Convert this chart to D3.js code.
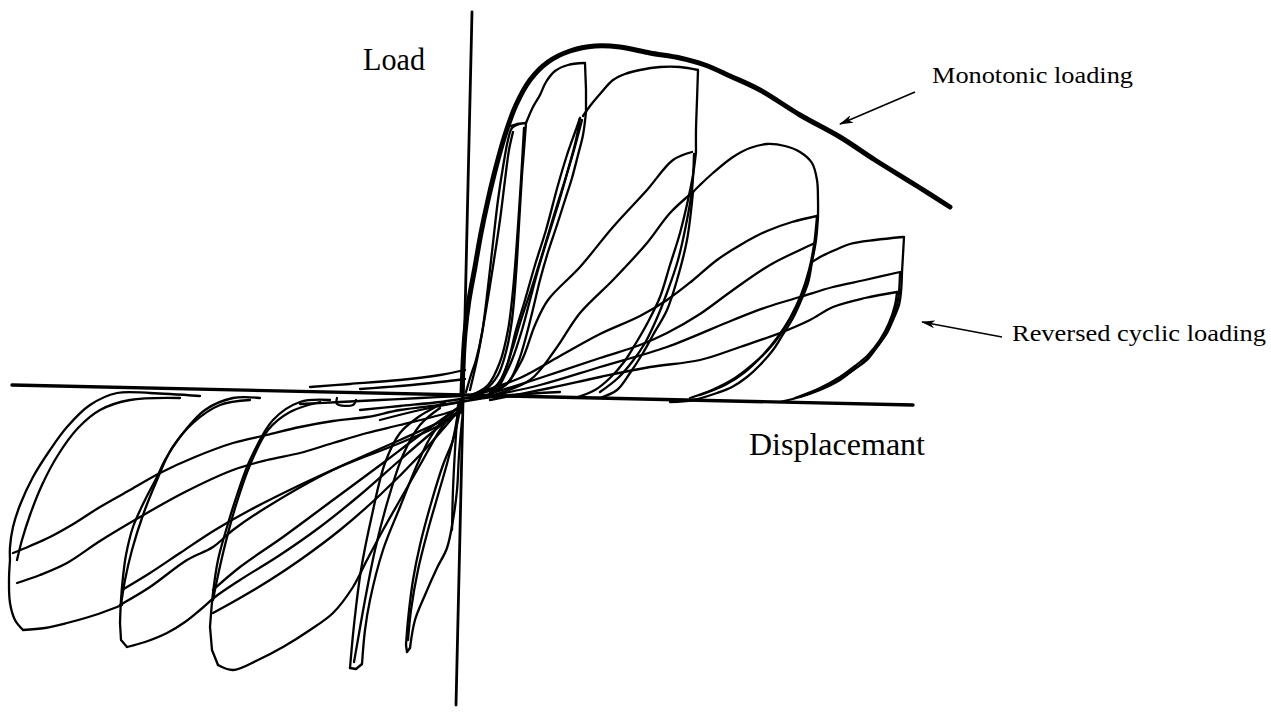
<!DOCTYPE html>
<html>
<head>
<meta charset="utf-8">
<script src="https://cdn.jsdelivr.net/npm/d3@7"></script>
<style>
  html, body { margin: 0; padding: 0; background: #fff; }
  svg { display: block; }
  .lbl { font-family: "Liberation Serif", "Times New Roman", serif; fill: #000; }
</style>
</head>
<body>
<svg id="chart" width="1271" height="721"></svg>
<script>
// Displacement in mm, load in kN. Each curve is a list of [displacement, load].

// Axis lines (slightly skewed as on the original plot)
const axisDisp = [[-90, 2], [90.2, -2]];
const axisLoad = [[2, 76.6], [-1.2, -62]];

// Monotonic loading envelope
const monotonic = [[0,0],[0.2,6],[0.6,12.4],[1.4,19],[2.6,25.6],[3.8,32.4],[5.2,39],[6.8,45.6],[8.6,52],[10.8,58],[13.6,63],[17.2,66.6],[21.6,68.8],[26.6,69.8],[31.6,69.6],[37.6,68.4],[43.6,67.4],[48.6,66],[53.6,63.8],[59.6,61],[67.6,56],[75.6,51.6],[82.6,47],[91,41.8],[97.6,37.6]];

// Reversed cyclic loading, positive half-cycles
const posA = [
  [[9.2,53.6],[11,54.2],[12.8,54.4]],
  [[12.8,54.4],[12.4,49],[12,44],[11.4,34],[10.8,24],[10,15],[8.8,8.6],[7.2,4],[4.6,1],[1.6,-0.2]],
  [[0.8,0.6],[1.8,4],[2.8,7],[4,12.4],[5.2,21.6],[6.2,30.4],[7.2,39],[8.2,45.6],[9.2,51],[10,53.4],[11.6,54.2]],
  [[12.4,53.4],[11.8,43],[11,31],[10.2,21],[9.2,13],[7.6,6.6],[5.2,2],[2,0]],
  [[1.6,1],[3.2,8],[4.8,17],[6.4,27],[7.6,35],[8.6,43],[9.4,49],[10.2,52.6]]
];
const posB = [
  [[12.8,54.4],[14.2,57.6],[15.6,60],[16.8,62.6],[18.6,64.8],[21.2,66],[24.4,66.4]],
  [[24.6,66.4],[24.8,61],[24.8,56.6]],
  [[24.8,56.6],[24.2,52],[23.2,48],[22,43.4],[20.6,39],[19,34],[17.2,28.6],[15.6,23],[14.4,18],[13,12.4],[11.4,7],[9.2,2.4],[5.6,0.2]],
  [[3.6,0.2],[7,2],[9,6],[10.8,13],[12.6,19],[14.6,26],[16.8,33],[19.2,42],[21,48],[22.4,52],[23.6,55.4]],
  [[23.6,55.4],[22.8,51],[21.2,45],[19.2,38],[17,31],[15.2,25],[13.6,19],[12,13],[10,7],[7.6,2]],
  [[5.6,0.4],[8,3.4],[10,9],[11.8,15],[13.8,21],[16,28],[18.4,36],[20.6,43],[22.4,49],[24,55]]
];
const posC = [
  [[24.2,55.8],[25.6,57.8],[27.6,60.2],[30.2,63],[32.6,64.2],[35.6,65],[39.6,65.6],[43.6,65.6],[47.2,65]],
  [[47.2,65],[47,59],[46.8,53],[46.8,48.6]],
  [[46.8,48.6],[46.2,44],[45.2,39],[43.6,32.4],[41.6,26],[39.6,19.6],[37.2,14.6],[34.8,10.4],[32.4,6.6],[29.6,3.4],[26.6,1],[22.6,-0.6]],
  [[3.2,0.4],[8.6,2],[12,7],[14.6,14],[17.2,19],[23.6,25.6],[30.2,33.6],[37,41],[42.2,47],[46,48.6]],
  [[46.4,48.2],[46,41],[44.8,34],[43.2,27],[41.2,21],[39,15.4],[36.6,10.4],[34,6.6],[31.2,3.4],[27.6,0.6]],
  [[5.6,-0.2],[13.6,3],[18.6,9],[23.6,16.4],[30.2,23],[37,30.4],[41.6,36.4],[46.2,40.6]],
  [[46.2,40.6],[45,31],[43,23],[41,17],[38.2,12],[36.2,8.4],[33.6,4.4],[31,1],[27.6,-0.6]]
];
const posD = [
  [[46.2,40.6],[47.6,42],[50.2,44.4],[54.2,47.6],[57.6,49.4],[61,50.2],[64.6,49.8],[67.6,48.6],[70,46.4],[71,43],[71.2,39],[71.2,35.6]],
  [[71.2,35.6],[70.8,31],[70,26.6],[69.2,22.4],[67.6,18.4],[66.2,15.4],[64,11.8],[62.2,9],[59.6,6],[57,3.6],[54,1.6],[51,0.4],[46.2,-1],[41.6,-1.4]],
  [[1.6,0],[11.6,3.4],[19.6,7.8],[27.6,12.2],[35.6,15.8],[41,19],[46,22.8],[51,27],[56,30.2],[61,32.8],[66,34.6],[71,35.8]],
  [[71,35.8],[70.4,30],[69.4,25],[67.8,20],[65.6,15.4],[63,11.4],[60,7.8],[56.6,4.6],[52.6,2],[47.6,0]],
  [[3.6,-0.4],[15.6,3.4],[27.6,7.4],[35.6,10],[41,12.4],[47.6,16.2],[54.2,21],[61.6,26],[67.6,29],[70.6,30.4]],
  [[70.6,30.4],[69.8,26],[68.6,21.6],[66.6,17],[64,12.6],[61.2,9],[58,6],[54.6,3.4],[50,1],[45.6,-0.6]]
];
const posE = [
  [[70,26.6],[72,27.8],[74.6,29],[77.6,30.2],[82.6,31],[88.2,31.6]],
  [[88.4,31.6],[88.2,28],[88,24.6]],
  [[88,24.6],[87.8,20.6],[87.4,18],[86.2,15],[85,12.4],[83,9.6],[81,7],[78.2,5],[75.6,3],[71.6,1],[67.6,-0.4],[63.6,-1.4]],
  [[3.6,-0.6],[15.6,2],[27.6,5.6],[41,9.6],[54.2,15],[61,17.6],[67.6,19.6],[74.2,21.6],[80.6,23],[87.6,24.6]],
  [[87.6,24.4],[87.2,19],[86,15],[84.4,11.6],[82.2,8.6],[79.6,6],[76.6,3.8],[72.6,1.6],[67.6,-0.4]],
  [[5.6,-1],[17.6,1.4],[27.6,3.6],[37.6,5.6],[47.6,7],[55.6,9.6],[63.6,12.4],[69.6,15],[74.2,17.6],[80.6,19.4],[87,20.6]],
  [[87,20.6],[86.6,18],[85.4,14.4],[83.6,11],[81.2,8],[78.6,5.8],[75.6,3.6],[71.6,1.4],[66.6,-0.6]]
];

// Reversed cyclic loading, negative half-cycles
const negA = [
  [[0,-0.6],[-0.8,-5],[-1.8,-9],[-3.8,-14],[-6,-21],[-8.4,-30],[-9.8,-37],[-10.8,-45],[-11.2,-50]],
  [[-11.2,-50],[-11,-51.4],[-10.4,-50.6]],
  [[-10.4,-50.6],[-9.4,-45],[-7.4,-40],[-5,-34.6],[-3,-30.6],[-1.8,-25],[-1,-19],[-0.6,-12],[0,-5]],
  [[-0.4,-1],[-1.4,-7],[-2.8,-13],[-4.8,-20],[-6.8,-27],[-8.8,-35],[-10.2,-43],[-10.8,-49]],
  [[-0.8,-2],[-1.4,-11],[-1.8,-19],[-2,-27]]
];
const negB = [
  [[-3.4,-1.4],[-6.4,-3],[-9,-4.6],[-12.4,-7.6],[-15.4,-13.6],[-18,-24],[-20.2,-35],[-21.6,-46],[-22.4,-54.6]],
  [[-22.4,-54.6],[-21.2,-54.8],[-20,-53.8]],
  [[-20,-53.8],[-19.4,-47],[-18.4,-41],[-15.8,-31],[-12.4,-22.4],[-9,-14],[-6.4,-8.6],[-3.4,-4.6],[0,-2]],
  [[-4.4,-2.6],[-8.4,-6],[-11.8,-12],[-14.8,-21],[-17.4,-31],[-19.4,-41],[-21,-50],[-21.6,-53.4]]
];
const negC = [
  [[-26.4,-1],[-32.4,-1.4],[-37.8,-5],[-42.4,-13],[-45,-20],[-47,-26.4],[-48.8,-33],[-49.8,-39.6],[-50.4,-46.4]],
  [[-50.4,-46.4],[-50,-51],[-48.8,-54]],
  [[-48.8,-54],[-45.8,-55],[-40.8,-53],[-35.8,-50.4],[-30.4,-47],[-25.8,-43.6],[-21.8,-38.4],[-19,-33],[-15.8,-27],[-12.4,-21],[-8.4,-14],[-4.4,-7],[-1.4,-3]],
  [[-28.4,-1.4],[-34.4,-3.4],[-38.8,-7],[-42.4,-14],[-45.2,-22],[-47.4,-30],[-49,-37],[-49.8,-41]],
  [[-49.8,-39],[-44.4,-34.4],[-35.8,-28.4],[-25.8,-21],[-15.8,-13.6],[-8.4,-8],[-1.4,-3]],
  [[-49.8,-43.6],[-44.4,-40.6],[-38.4,-37],[-32.4,-33],[-24.4,-27],[-16.4,-20],[-8.4,-12],[-1.4,-4]]
];
const negD = [
  [[-40.4,-0.6],[-45.8,-0.6],[-51.4,-3],[-56.4,-8.4],[-59.4,-13],[-61,-16.4],[-63.4,-21],[-65.8,-26.4],[-67.2,-32],[-67.8,-36.4],[-68.2,-41],[-68.4,-45.6]],
  [[-68.4,-45.6],[-68.2,-49],[-67,-50.4]],
  [[-67,-50.4],[-63.4,-49.4],[-59,-47.6],[-55.4,-45.4],[-52.4,-43],[-49.4,-40.4],[-44.4,-37],[-36.4,-32],[-28.4,-26.4],[-20.4,-20],[-12.4,-13],[-5.4,-7],[-0.4,-3]],
  [[-42.4,-1],[-48.4,-2],[-53.8,-5.6],[-58,-10.6],[-61,-17],[-63.8,-24],[-66,-31],[-67.4,-37],[-68.2,-42]],
  [[-68.4,-42],[-62.4,-38.4],[-55,-33],[-49.8,-30.4],[-45.8,-27],[-39,-22.4],[-25.8,-15],[-12.4,-9.6],[-4.4,-6],[0,-3]],
  [[-68,-39],[-62.4,-35.6],[-56.4,-31.6],[-49.4,-27],[-42.4,-23],[-32.4,-18],[-22.4,-13.4],[-12.4,-9],[-4.4,-5.4],[0,-3.4]]
];
const negE = [
  [[-52.4,-0.2],[-62.4,0.4],[-69,0.4],[-74.4,-2],[-79,-6.4],[-82.4,-11],[-85.8,-16.4],[-88.4,-22],[-89.8,-26.4],[-90.4,-30.4],[-90.4,-33]],
  [[-90.4,-33],[-90.6,-37],[-90.4,-41.6],[-89.4,-45],[-87.8,-47]],
  [[-87.8,-47],[-83.4,-46.6],[-79,-45.6],[-73.4,-44],[-69,-42.4],[-68,-42]],
  [[-89.8,-31.6],[-86.4,-30.2],[-82.4,-28.4],[-77.4,-25.6],[-72.4,-22.4],[-66.4,-19],[-60.4,-15.6],[-53.4,-12.4],[-45.8,-9.6],[-39,-8],[-32.4,-6.4],[-25.8,-5.2],[-19,-4.4],[-12.4,-3],[-4.4,-2],[0,-1.4]],
  [[-89,-37.6],[-84.4,-36],[-79,-33.6],[-72.4,-29.2],[-64.4,-24.4],[-55.4,-19.4],[-45.8,-15],[-39,-13],[-32.4,-11.6],[-25.8,-9.6],[-19,-7.6],[-12.4,-6],[-4.4,-4],[0,-2.6]],
  [[-56.4,-0.6],[-66.4,-1],[-72.4,-3],[-76.8,-6.6],[-80.8,-12],[-84,-18],[-86.4,-24],[-88,-29],[-89,-33]]
];

// Short segments crossing the origin region (pinched part of the cycles)
const nearOrigin = [
  [[-32.4,-1.8],[-24.4,-1.4],[-16.4,-1],[-8.4,-0.6],[0,-0.2]],
  [[-25,-0.6],[-25,-1.8],[-21.8,-2],[-21.2,-1]],
  [[-20.4,-3],[-12.4,-2.2],[-4.4,-1.4],[1.6,-0.6],[11.6,-0.2]],
  [[-16.4,-5],[-8.4,-3],[-0.4,-1.4],[7.6,-0.2],[19.6,0.6]],
  [[-30.4,1.6],[-22.4,2.2],[-12.4,3],[-4.4,4],[0.6,5]],
  [[-20.4,1.2],[-12.4,1.8],[-4.4,2.6],[0.6,3.2]]
];

// Annotations
const labels = [
  { text: "Load", at: [-19.8, 65], size: 31, width: 62 },
  { text: "Displacemant", at: [57.4, -12], size: 31, width: 176 },
  { text: "Monotonic loading", at: [94, 62.4], size: 24, width: 201 },
  { text: "Reversed cyclic loading", at: [110, 10.8], size: 24, width: 254 }
];
const arrows = [
  [[90.6, 60.6], [75.6, 54.2]],
  [[108, 11.6], [92, 14.6]]
];

const svg = d3.select("#chart");
const x = d3.scaleLinear().domain([-90, 100]).range([12, 962]);
const y = d3.scaleLinear().domain([-62, 78]).range([705, 5]);

const smooth = d3.line().x(d => x(d[0])).y(d => y(d[1])).curve(d3.curveCatmullRom.alpha(0.5));
const straight = d3.line().x(d => x(d[0])).y(d => y(d[1]));

svg.append("defs").append("marker")
  .attr("id", "head")
  .attr("viewBox", "0 0 14 8")
  .attr("refX", 13).attr("refY", 4)
  .attr("markerWidth", 14).attr("markerHeight", 8)
  .attr("markerUnits", "userSpaceOnUse")
  .attr("orient", "auto")
  .append("path").attr("d", "M0,0 L14,4 L0,8 L4,4 Z").attr("fill", "#000");

// axes
svg.append("path").attr("d", straight(axisDisp))
  .attr("stroke", "#000").attr("stroke-width", 3.4).attr("fill", "none").attr("stroke-linecap", "round");
svg.append("path").attr("d", straight(axisLoad))
  .attr("stroke", "#000").attr("stroke-width", 2.8).attr("fill", "none").attr("stroke-linecap", "round");

// cyclic curves
const cyclic = [].concat(posA, posB, posC, posD, posE, negA, negB, negC, negD, negE, nearOrigin);
svg.append("g")
  .selectAll("path")
  .data(cyclic)
  .join("path")
  .attr("d", d => d.length <= 3 ? straight(d) : smooth(d))
  .attr("fill", "none")
  .attr("stroke", "#000")
  .attr("stroke-width", 2.3)
  .attr("stroke-linejoin", "round")
  .attr("stroke-linecap", "round");

// monotonic envelope
svg.append("path").attr("d", smooth(monotonic))
  .attr("fill", "none").attr("stroke", "#000").attr("stroke-width", 5)
  .attr("stroke-linecap", "round").attr("stroke-linejoin", "round");

// leader arrows
svg.append("g").selectAll("path")
  .data(arrows)
  .join("path")
  .attr("d", d => straight(d))
  .attr("stroke", "#000").attr("stroke-width", 1.6).attr("fill", "none")
  .attr("marker-end", "url(#head)");

// text labels
svg.append("g").selectAll("text")
  .data(labels)
  .join("text")
  .attr("class", "lbl")
  .attr("x", d => x(d.at[0]))
  .attr("y", d => y(d.at[1]))
  .attr("font-size", d => d.size)
  .attr("textLength", d => d.width)
  .attr("lengthAdjust", "spacingAndGlyphs")
  .text(d => d.text);
</script>
</body>
</html>
